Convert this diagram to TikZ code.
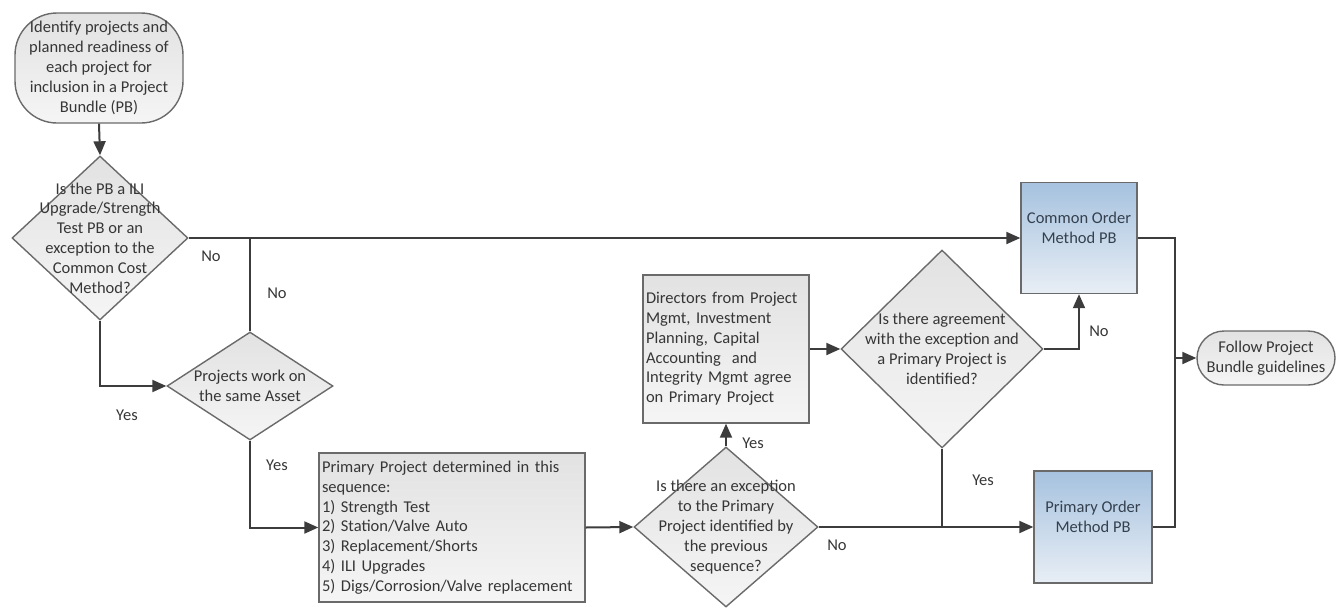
\documentclass[tikz,border=0pt]{standalone}
\usepackage{fontspec}
\setmainfont{Carlito}
\usetikzlibrary{arrows.meta,shapes.geometric}
\definecolor{ink}{HTML}{363636}
\definecolor{edge}{HTML}{6A6A6A}
\definecolor{wire}{HTML}{3C3C3C}
\definecolor{greytop}{HTML}{E2E2E2}
\definecolor{greybot}{HTML}{F5F5F5}
\definecolor{bluetop}{HTML}{A6C2DF}
\definecolor{bluebot}{HTML}{E8EEF5}
\definecolor{blueink}{HTML}{34404E}
\begin{document}
\begin{tikzpicture}[x=1pt,y=-1pt,
  font=\fontsize{16.5}{19.8}\selectfont,
  every node/.style={text=ink},
  greyfill/.style={draw=edge,line width=1.4pt,top color=greytop,bottom color=greybot},
  terminal/.style={greyfill,rectangle,inner sep=0pt,align=center},
  decision/.style={greyfill,diamond,inner sep=0pt},
  process/.style={greyfill,rectangle,inner xsep=3pt,inner ysep=0pt,align=left},
  bluebox/.style={draw=edge,line width=1.4pt,top color=bluetop,bottom color=bluebot,
                  rectangle,inner sep=0pt},
  inside/.style={align=center,text=ink,inner sep=0pt},
  blueinside/.style={align=center,text=blueink,inner sep=0pt},
  flow/.style={draw=wire,line width=2pt,-{Triangle[length=14pt,width=12pt]}},
  wireline/.style={draw=wire,line width=2pt},
  tag/.style={inner sep=0pt,text=ink}]

\useasboundingbox (0,0) rectangle (1338,608);

% start and end terminals
\node[terminal,rounded corners=42pt,minimum width=168pt,minimum height=110pt] (start) at (99,68)
  {Identify projects and\\planned readiness of\\each project for\\inclusion in a Project\\Bundle (PB)};
\node[terminal,rounded corners=27pt,minimum width=138pt,minimum height=54pt] (follow) at (1266,358)
  {Follow Project\\Bundle guidelines};

% decisions
\node[decision,minimum width=176pt,minimum height=164pt,
  label={[inside]center:{Is the PB a ILI\\Upgrade/Strength\\Test PB or an\\exception to the\\Common Cost\\Method?}}] (d1) at (100,238) {};
\node[decision,minimum width=166pt,minimum height=108pt,
  label={[inside]center:{Projects work on\\the same Asset}}] (d2) at (250,386) {};
\node[decision,minimum width=184pt,minimum height=160pt,
  label={[inside]center:{Is there an exception\\to the Primary\\Project identified by\\the previous\\sequence?}}] (d3) at (726,527) {};
\node[decision,minimum width=202pt,minimum height=198pt,
  label={[inside]center:{Is there agreement\\with the exception and\\a Primary Project is\\identified?}}] (d4) at (942,349) {};

% process boxes
\node[process,text width=260pt,minimum height=149pt] (seq) at (452,527.5)
  {Primary Project determined in this\\sequence:\\1) Strength Test\\2) Station/Valve Auto\\3) Replacement/Shorts\\4) ILI Upgrades\\5) Digs/Corrosion/Valve replacement};
\node[process,text width=160pt,minimum height=148pt] (dirs) at (726,349)
  {Directors from Project\\Mgmt, Investment\\Planning, Capital\\Accounting~ and\\Integrity Mgmt agree\\on Primary Project};

% outcome boxes
\node[bluebox,minimum width=116pt,minimum height=111pt,
  label={[blueinside,yshift=10pt]center:{Common Order\\Method PB}}] (common) at (1079,238) {};
\node[bluebox,minimum width=118pt,minimum height=112pt,
  label={[blueinside,yshift=10pt]center:{Primary Order\\Method PB}}] (porder) at (1093,527) {};

% junction points
\coordinate (top) at (d2.north |- d1.east);
\coordinate (low) at (d4.south |- d3.east);
\coordinate (bus) at (1175,358);

% connectors
\draw[flow] (start.south) -- (d1.north);
\draw[flow] (d1.east) -- (common.west);
\draw[wireline] (d2.north) -- (top);
\draw[flow] (d1.south) |- (d2.west);
\draw[flow] (d2.south) |- (seq.west);
\draw[flow] (seq.east) -- (d3.west);
\draw[flow] (d3.north) -- (dirs.south);
\draw[flow] (dirs.east) -- (d4.west);
\draw[flow] (d4.east) -| (common.south);
\draw[flow] (d3.east) -- (porder.west);
\draw[wireline] (d4.south) -- (low);
\draw[wireline] (common.east) -| (bus);
\draw[wireline] (porder.east) -| (bus);
\draw[flow] (bus) -- (follow.west);

% branch labels
\node[tag] (l1) at (211,256) {No};
\node[tag] (l2) at (277,293) {No};
\node[tag] (l3) at (127,415) {Yes};
\node[tag] (l4) at (277,465) {Yes};
\node[tag] (l5) at (753,443) {Yes};
\node[tag] (l6) at (837,545) {No};
\node[tag] (l7) at (983,480) {Yes};
\node[tag] (l8) at (1099,331) {No};
\end{tikzpicture}
\end{document}
